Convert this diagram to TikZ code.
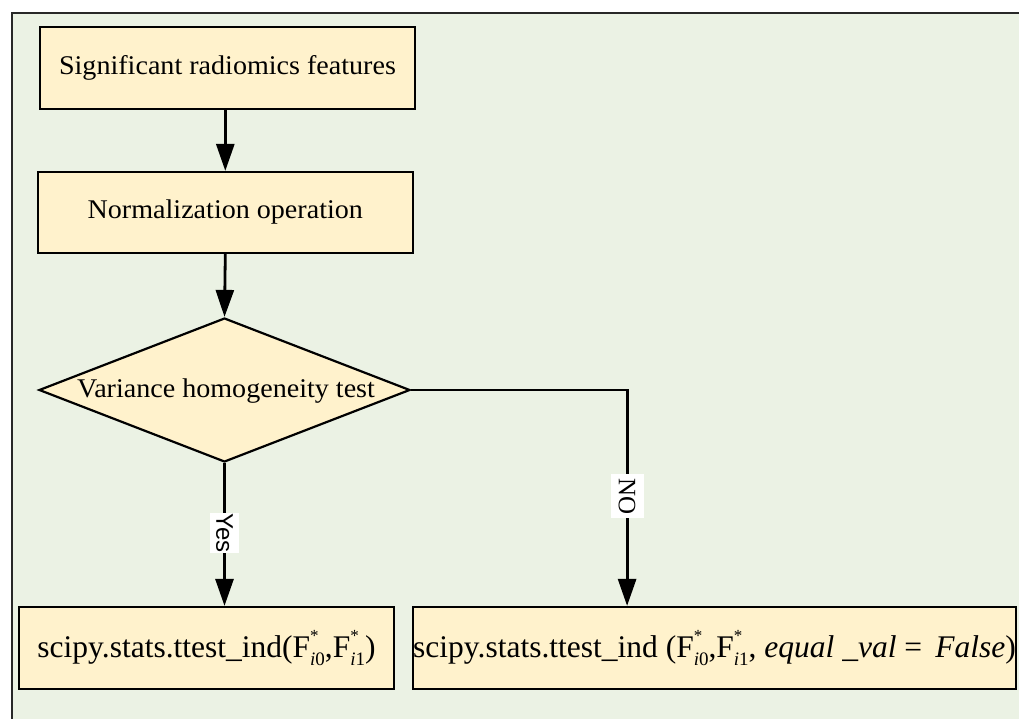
\documentclass[tikz,border=0pt]{standalone}
\usepackage{fontspec}
\setmainfont{Liberation Serif}
\newfontfamily\palfont[FakeStretch=1.04]{Liberation Serif}
\newfontfamily\lblsans{Liberation Sans}
\usetikzlibrary{arrows.meta,shapes.geometric,calc}
\definecolor{bgg}{RGB}{235,242,228}
\definecolor{boxy}{RGB}{255,242,204}
\definecolor{framec}{RGB}{40,40,40}
\newcommand\FStar[1]{F\rlap{\raisebox{0.5em}{\fontsize{17}{17}\selectfont *}}\raisebox{-0.25em}{\fontsize{19}{19}\selectfont\textit{i}#1}}
\begin{document}
\begin{tikzpicture}[x=1pt,y=-1pt,
  box/.style={draw=black, line width=2.2pt, fill=boxy, minimum width=#1, minimum height=82pt, inner sep=0pt},
  box/.default=375pt,
  topfont/.style={font=\palfont\fontsize{27}{32}\selectfont},
  botfont/.style={font=\fontsize{31.5}{36}\selectfont},
  decision/.style={diamond, draw=black, fill=boxy, line width=2.2pt, minimum width=371pt, minimum height=144pt, aspect=2.576, inner sep=0pt},
  arr/.style={line width=2.8pt, -{Triangle[length=27pt,width=18pt]}},
  yeslbl/.style={fill=white, rotate=-90, font=\lblsans\fontsize{24}{24}\selectfont, inner xsep=0.5pt, inner ysep=6pt},
  nolbl/.style={fill=white, rotate=-90, font=\fontsize{25}{25}\selectfont, inner xsep=4pt, inner ysep=8pt}
]
\useasboundingbox (0,0) rectangle (1019,718);
\clip (0,0) rectangle (1019,718);
\draw[framec, line width=2.2pt, fill=bgg] (12,13) rectangle (1040,740);

\node[box, topfont] (b1) at (227.5,68) {Significant radiomics features};
\node[box, topfont, minimum height=81pt] (b2) at (225.3,212.5) {Normalization operation};
\node[decision] (d) at (224.5,390) {};
\node[topfont] (dt) at (226,391) {Variance homogeneity test};
\node[box, botfont] (b3) at (206.5,648) {scipy.stats.ttest\_ind(\FStar{0},\FStar{1})};
\node[box=601pt, botfont] (b4) at (714.5,648) {scipy.stats.ttest\_ind (\FStar{0},\FStar{1}, \textit{equal \_val} = \,\textit{False})};
\coordinate (n4) at ($(b4.north west)+(215,0)$);

\draw[arr] (b2.north |- b1.south) -- (b2.north);
\draw[arr] (b2.south) -- (d.north);
\draw[arr] (d.south) -- (d.south |- b3.north) node[pos=0.49, yeslbl] {Yes};
\draw[arr] (d.east) -| (n4) node[pos=0.746, nolbl] {NO};
\end{tikzpicture}
\end{document}
